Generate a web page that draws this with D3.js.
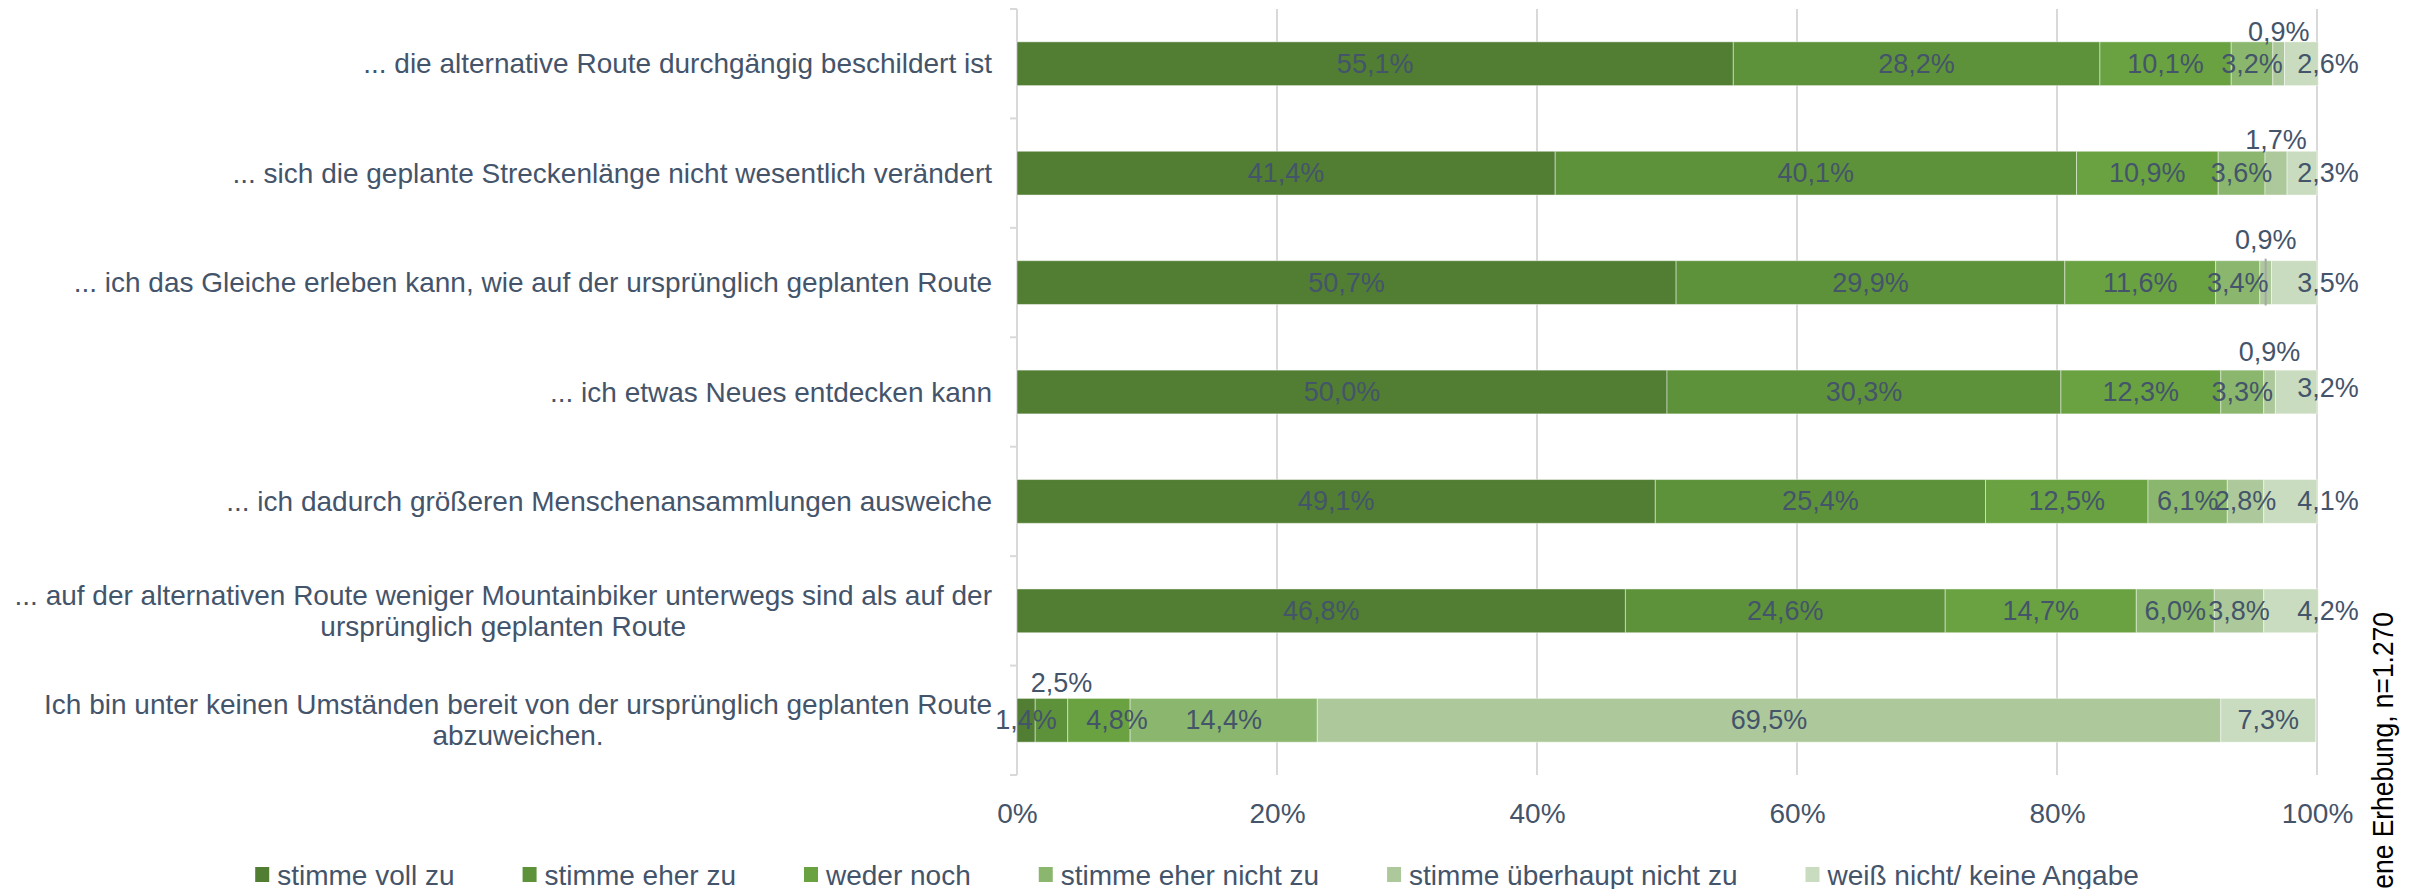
<!DOCTYPE html>
<html lang="de">
<head>
<meta charset="utf-8">
<script src="https://cdn.jsdelivr.net/npm/d3@7"></script>
<style>
  html, body { margin: 0; padding: 0; background: #fff; }
  svg { display: block; font-family: "Liberation Sans", Arial, sans-serif; }
</style>
</head>
<body>
<svg id="chart" width="2417" height="889"></svg>
<script>
// Statements (top to bottom); line breaks mark wrapped labels
const statements = [
  ["... die alternative Route durchgängig beschildert ist"],
  ["... sich die geplante Streckenlänge nicht wesentlich verändert"],
  ["... ich das Gleiche erleben kann, wie auf der ursprünglich geplanten Route"],
  ["... ich etwas Neues entdecken kann"],
  ["... ich dadurch größeren Menschenansammlungen ausweiche"],
  ["... auf der alternativen Route weniger Mountainbiker unterwegs sind als auf der", "ursprünglich geplanten Route"],
  ["Ich bin unter keinen Umständen bereit von der ursprünglich geplanten Route", "abzuweichen."]
];

const answers = [
  "stimme voll zu",
  "stimme eher zu",
  "weder noch",
  "stimme eher nicht zu",
  "stimme überhaupt nicht zu",
  "weiß nicht/ keine Angabe"
];

// Shares in percent, one array per answer, in statement order
const stimmeVollZu          = [55.1, 41.4, 50.7, 50.0, 49.1, 46.8, 1.4];
const stimmeEherZu          = [28.2, 40.1, 29.9, 30.3, 25.4, 24.6, 2.5];
const wederNoch             = [10.1, 10.9, 11.6, 12.3, 12.5, 14.7, 4.8];
const stimmeEherNichtZu     = [3.2, 3.6, 3.4, 3.3, 6.1, 6.0, 14.4];
const stimmeUeberhauptNicht = [0.9, 1.7, 0.9, 0.9, 2.8, 3.8, 69.5];
const weissNicht            = [2.6, 2.3, 3.5, 3.2, 4.1, 4.2, 7.3];

const seriesValues = [stimmeVollZu, stimmeEherZu, wederNoch, stimmeEherNichtZu, stimmeUeberhauptNicht, weissNicht];

const axisTicks = [0, 20, 40, 60, 80, 100];
const sourceNote = "Quelle: eigene Erhebung, n=1.270";

const colors = ["#517e33", "#5e923a", "#6aa242", "#8ab76d", "#adc99b", "#c9dcbf"];
const textColor = "#44546a";

// ---- layout ----
const svg = d3.select("#chart");
const plot = { left: 1017, right: 2317, top: 9, bottom: 775 };

const x = d3.scaleLinear().domain([0, 100]).range([plot.left, plot.right]);
const y = d3.scaleBand()
  .domain(d3.range(statements.length))
  .range([plot.top, plot.bottom])
  .paddingInner(0.6)
  .paddingOuter(0.3);

// stacked rows
const rows = statements.map((s, i) => {
  let acc = 0;
  return seriesValues.map((vals, k) => {
    const v = vals[i];
    const seg = { row: i, series: k, value: v, x0: acc, x1: acc + v };
    acc += v;
    return seg;
  });
});

// gridlines
svg.append("g")
  .selectAll("line")
  .data(axisTicks.slice(1))
  .join("line")
  .attr("x1", d => x(d)).attr("x2", d => x(d))
  .attr("y1", plot.top).attr("y2", plot.bottom)
  .attr("stroke", "#d9d9d9").attr("stroke-width", 2);

// category axis line with tick marks at band edges
const step = y.step();
const edges = d3.range(statements.length + 1).map(i => plot.top + i * step);
const catAxis = svg.append("g");
catAxis.append("line")
  .attr("x1", plot.left).attr("x2", plot.left)
  .attr("y1", plot.top).attr("y2", plot.bottom)
  .attr("stroke", "#d9d9d9").attr("stroke-width", 2);
catAxis.selectAll("line.tick")
  .data(edges)
  .join("line")
  .attr("class", "tick")
  .attr("x1", plot.left - 7).attr("x2", plot.left)
  .attr("y1", d => d).attr("y2", d => d)
  .attr("stroke", "#d9d9d9").attr("stroke-width", 2);

// bars
svg.append("g")
  .selectAll("g")
  .data(rows)
  .join("g")
  .selectAll("rect")
  .data(d => d)
  .join("rect")
  .attr("x", d => x(d.x0))
  .attr("width", d => x(d.x1) - x(d.x0))
  .attr("y", d => y(d.row))
  .attr("height", y.bandwidth())
  .attr("fill", d => colors[d.series])
  .attr("stroke", "rgba(255,255,255,0.45)")
  .attr("stroke-width", 1);

// callouts for thin segments placed above the bar (row-series -> lift in px)
const above = new Map([["0-4", 10], ["1-4", 11], ["2-4", 21], ["3-4", 18], ["6-1", 15]]);
// small horizontal/vertical nudges for crowded labels
const nudge = new Map([["6-1", [10, 0]], ["6-2", [18, 0]], ["3-5", [0, -4]]]);

const fmt = v => v.toFixed(1).replace(".", ",") + "%";
const labels = [];
rows.forEach(r => r.forEach(seg => {
  const key = seg.row + "-" + seg.series;
  let cx = (x(seg.x0) + x(seg.x1)) / 2;
  let cy = y(seg.row) + y.bandwidth() / 2;
  if (above.has(key)) cy = y(seg.row) - above.get(key);
  if (seg.series === seriesValues.length - 1 && seg.value < 5) cx = x(100) + 11;
  if (nudge.has(key)) { cx += nudge.get(key)[0]; cy += nudge.get(key)[1]; }
  labels.push({ ...seg, key, cx, cy });
}));

// leader line for the callout that sits highest above its bar
const leader = rows[2][4];
svg.append("line")
  .attr("x1", x((leader.x0 + leader.x1) / 2)).attr("x2", x((leader.x0 + leader.x1) / 2))
  .attr("y1", y(2) - 2).attr("y2", y(2) + y.bandwidth() + 1)
  .attr("stroke", "#a6a6a6").attr("stroke-width", 2);

svg.append("g")
  .selectAll("text")
  .data(labels)
  .join("text")
  .attr("x", d => d.cx)
  .attr("y", d => d.cy)
  .attr("text-anchor", "middle")
  .attr("dominant-baseline", "central")
  .attr("font-size", 27)
  .attr("fill", textColor)
  .text(d => fmt(d.value));

// category labels
const catG = svg.append("g");
statements.forEach((lines, i) => {
  const cy = y(i) + y.bandwidth() / 2;
  const lh = 31;
  const first = catG.append("text")
    .attr("x", 992)
    .attr("y", cy - (lines.length - 1) * lh / 2)
    .attr("text-anchor", "end")
    .attr("dominant-baseline", "central")
    .attr("font-size", 28)
    .attr("fill", textColor)
    .text(lines[0]);
  if (lines.length > 1) {
    const w = first.node().getComputedTextLength();
    catG.append("text")
      .attr("x", 992 - w / 2)
      .attr("y", cy + lh / 2)
      .attr("text-anchor", "middle")
      .attr("dominant-baseline", "central")
      .attr("font-size", 28)
      .attr("fill", textColor)
      .text(lines[1]);
  }
});

// value axis labels
const xAxis = svg.append("g")
  .attr("transform", `translate(0,${plot.bottom})`)
  .call(d3.axisBottom(x).tickValues(axisTicks).tickFormat(d => d + "%").tickSize(0).tickPadding(28));
xAxis.select(".domain").remove();
xAxis.selectAll("text")
  .attr("font-size", 28)
  .attr("fill", textColor)
  .attr("font-family", "Liberation Sans, Arial, sans-serif");

// legend
const legendGap = 68;
const legend = svg.append("g");
const items = legend.selectAll("g")
  .data(answers)
  .join("g");
items.append("rect")
  .attr("width", 14).attr("height", 15)
  .attr("y", 867)
  .attr("fill", (d, i) => colors[i]);
items.append("text")
  .attr("x", 22)
  .attr("y", 875)
  .attr("dominant-baseline", "central")
  .attr("font-size", 28)
  .attr("fill", textColor)
  .text(d => d);
let lx = 0;
const offsets = [];
items.each(function () {
  offsets.push(lx);
  lx += 22 + d3.select(this).select("text").node().getComputedTextLength() + legendGap;
});
const totalW = lx - legendGap;
const startX = 1197 - totalW / 2;
items.attr("transform", (d, i) => `translate(${startX + offsets[i]},0)`);

// source note, rotated along the right edge
svg.append("text")
  .attr("transform", "translate(2393,612) rotate(-90) scale(0.88,1)")
  .attr("text-anchor", "end")
  .attr("font-size", 30)
  .attr("fill", "#000")
  .text(sourceNote);
</script>
</body>
</html>
